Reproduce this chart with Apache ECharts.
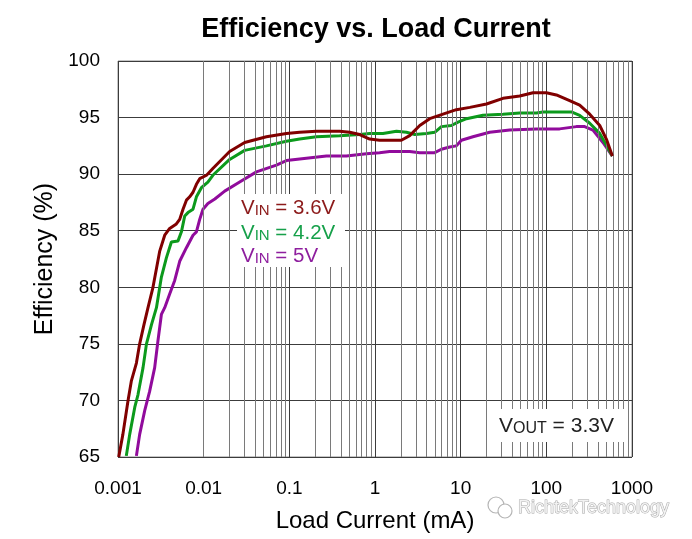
<!DOCTYPE html>
<html>
<head>
<meta charset="utf-8">
<script src="https://cdn.jsdelivr.net/npm/echarts@6/dist/echarts.min.js"></script>
<style>html,body{margin:0;padding:0;background:#fff}#c{width:692px;height:539px}</style>
</head>
<body>
<div id="c"></div>
<script>
// ---- data (Load current in mA, efficiency in %) ----
var xTickLabels = ['0.001', '0.01', '0.1', '1', '10', '100', '1000'];
var yTicks = [65, 70, 75, 80, 85, 90, 95, 100];
var minorMultipliers = [2, 3, 4, 5, 6, 7, 8, 9];

var vin36X = [0.00102, 0.00114, 0.00131, 0.00143, 0.00164, 0.00179, 0.00201, 0.00224, 0.00256, 0.00307, 0.00351, 0.00401, 0.00480, 0.00525, 0.00574, 0.00629, 0.00687, 0.00751, 0.00823, 0.00899, 0.0108, 0.0128, 0.0201, 0.0301, 0.054, 0.0924, 0.132, 0.207, 0.387, 0.507, 0.663, 0.867, 1.13, 1.36, 2.03, 2.54, 3.33, 4.35, 6.22, 8.91, 12.8, 20.0, 31.2, 48.9, 69.9, 100, 131, 187, 245, 321, 420, 502, 590];
var vin36Y = [65.0, 67.0, 70.0, 71.7, 73.3, 75.0, 76.7, 78.2, 80.0, 83.2, 84.6, 85.2, 85.6, 86.0, 86.9, 87.7, 88.0, 88.4, 89.1, 89.6, 89.9, 90.5, 92.0, 92.8, 93.3, 93.6, 93.7, 93.8, 93.8, 93.7, 93.5, 93.1, 93.0, 93.0, 93.0, 93.4, 94.3, 94.9, 95.3, 95.7, 95.9, 96.2, 96.7, 96.9, 97.2, 97.2, 97.0, 96.5, 96.1, 95.3, 94.3, 93.1, 91.6];

var vin42X = [0.00125, 0.00137, 0.00157, 0.00171, 0.00196, 0.00215, 0.00246, 0.00281, 0.00321, 0.00367, 0.00420, 0.00502, 0.00550, 0.00601, 0.00656, 0.00751, 0.00823, 0.00941, 0.0112, 0.0128, 0.0201, 0.0301, 0.054, 0.0924, 0.132, 0.207, 0.387, 0.663, 0.867, 1.24, 1.78, 2.33, 2.91, 3.98, 4.98, 5.96, 7.79, 9.31, 11.7, 18.2, 31.2, 48.9, 76.5, 91.4, 131, 196, 245, 321, 420, 590];
var vin42Y = [65.1, 67.0, 69.4, 70.5, 72.9, 75.0, 76.7, 78.2, 80.9, 82.6, 84.0, 84.1, 84.9, 86.3, 86.6, 86.9, 88.0, 88.8, 89.3, 89.9, 91.3, 92.1, 92.5, 92.9, 93.1, 93.3, 93.4, 93.5, 93.6, 93.6, 93.8, 93.7, 93.5, 93.6, 93.7, 94.2, 94.3, 94.6, 94.9, 95.2, 95.3, 95.4, 95.4, 95.5, 95.5, 95.5, 95.2, 94.5, 93.6, 91.6];

var vin5X = [0.00164, 0.00179, 0.00205, 0.00234, 0.00268, 0.00293, 0.00321, 0.00351, 0.00401, 0.00459, 0.00525, 0.00629, 0.00751, 0.00823, 0.00899, 0.00982, 0.0112, 0.0135, 0.0176, 0.0263, 0.0413, 0.0706, 0.0924, 0.158, 0.271, 0.463, 0.794, 1.13, 1.48, 2.54, 3.33, 4.98, 5.96, 7.45, 8.91, 10.2, 13.9, 21.8, 37.4, 76.5, 143, 224, 280, 350, 458, 590];
var vin5Y = [65.1, 67.0, 69.1, 70.8, 72.9, 75.3, 77.6, 78.2, 79.4, 80.6, 82.3, 83.5, 84.6, 84.9, 86.0, 86.9, 87.4, 87.8, 88.5, 89.3, 90.2, 90.8, 91.2, 91.4, 91.6, 91.6, 91.8, 91.9, 92.0, 92.0, 91.9, 91.9, 92.2, 92.4, 92.5, 93.0, 93.3, 93.7, 93.9, 94.0, 94.0, 94.2, 94.2, 93.9, 92.8, 91.6];

function pairs(xs, ys) { return xs.map(function (x, i) { return [x, ys[i]]; }); }

var minorLines = [];
xTickLabels.slice(0, -1).forEach(function (t) {
  var base = parseFloat(t);
  minorMultipliers.forEach(function (m) { minorLines.push({ xAxis: base * m }); });
});

var FONT = '"Liberation Sans", Arial, sans-serif';
var C36 = '#800000', C42 = '#0c9a1c', C5 = '#910b9c';

var chart = echarts.init(document.getElementById('c'), null, { renderer: 'canvas' });
chart.setOption({
  backgroundColor: '#fff',
  animation: false,
  grid: { left: 118, right: 60, top: 61, bottom: 82, show: true, borderColor: '#8c8c8c', borderWidth: 1, backgroundColor: 'transparent' },
  xAxis: {
    type: 'log', logBase: 10, min: 0.001, max: 1000,
    axisLine: { show: false }, axisTick: { show: false },
    splitLine: { show: true, lineStyle: { color: '#3c3c3c', width: 1 } },
    axisLabel: {
      margin: 22, fontSize: 19, color: '#000', fontFamily: FONT,
      formatter: function (v) { var k = Math.round(Math.log10(v)) + 3; return xTickLabels[k] || ''; }
    },
    name: 'Load Current (mA)', nameLocation: 'middle', nameGap: 52,
    nameTextStyle: { fontSize: 24, color: '#000', fontFamily: FONT }
  },
  yAxis: {
    type: 'value', min: yTicks[0], max: yTicks[yTicks.length - 1], interval: 5,
    axisLine: { show: false }, axisTick: { show: false },
    splitLine: { show: true, lineStyle: { color: '#3c3c3c', width: 1 } },
    axisLabel: { margin: 18, fontSize: 19, color: '#000', fontFamily: FONT },
    name: 'Efficiency (%)', nameLocation: 'middle', nameGap: 60, nameRotate: 90,
    nameTextStyle: { fontSize: 25, color: '#000', fontFamily: FONT }
  },
  series: [
    { type: 'line', data: [], silent: true, z: 1,
      markLine: { silent: true, symbol: ['none', 'none'], label: { show: false },
        lineStyle: { color: '#7a7a7a', width: 1, type: 'solid' }, emphasis: { disabled: true }, data: minorLines } },
    { name: 'VIN = 3.6V', type: 'line', data: pairs(vin36X, vin36Y), showSymbol: false, z: 5, lineStyle: { color: C36, width: 3 } },
    { name: 'VIN = 4.2V', type: 'line', data: pairs(vin42X, vin42Y), showSymbol: false, z: 4, lineStyle: { color: C42, width: 3 } },
    { name: 'VIN = 5V', type: 'line', data: pairs(vin5X, vin5Y), showSymbol: false, z: 3, lineStyle: { color: C5, width: 3 } }
  ],
  graphic: [
    { type: 'text', x: 376, y: 30, z: 100, style: { text: 'Efficiency vs. Load Current', font: 'bold 27px ' + FONT, fill: '#000', align: 'center', verticalAlign: 'middle' } },
    { type: 'rect', z: 90, shape: { x: 237, y: 194, width: 108, height: 73 }, style: { fill: '#fff' } },
    { type: 'text', x: 241, y: 208, z: 100, style: { text: '{v|V}{s|IN}{v| = 3.6V}', fill: '#8c1a1a', verticalAlign: 'middle',
      rich: { v: { fontSize: 20.5, fontFamily: FONT, fill: '#8c1a1a' }, s: { fontSize: 15, fontFamily: FONT, fill: '#8c1a1a', verticalAlign: 'bottom', padding: [4, 0, 0, 0] } } } },
    { type: 'text', x: 241, y: 233, z: 100, style: { text: '{v|V}{s|IN}{v| = 4.2V}', fill: '#16a04a', verticalAlign: 'middle',
      rich: { v: { fontSize: 20.5, fontFamily: FONT, fill: '#16a04a' }, s: { fontSize: 15, fontFamily: FONT, fill: '#16a04a', verticalAlign: 'bottom', padding: [4, 0, 0, 0] } } } },
    { type: 'text', x: 241, y: 256, z: 100, style: { text: '{v|V}{s|IN}{v| = 5V}', fill: '#8e1e9e', verticalAlign: 'middle',
      rich: { v: { fontSize: 20.5, fontFamily: FONT, fill: '#8e1e9e' }, s: { fontSize: 15, fontFamily: FONT, fill: '#8e1e9e', verticalAlign: 'bottom', padding: [4, 0, 0, 0] } } } },
    { type: 'rect', z: 90, shape: { x: 493, y: 409, width: 134, height: 33 }, style: { fill: '#fff' } },
    { type: 'text', x: 499, y: 426, z: 100, style: { text: '{v|V}{s|OUT}{v| = 3.3V}', fill: '#222', verticalAlign: 'middle',
      rich: { v: { fontSize: 21, fontFamily: FONT, fill: '#222' }, s: { fontSize: 16, fontFamily: FONT, fill: '#222', verticalAlign: 'bottom', padding: [4, 0, 0, 0] } } } },
    { type: 'circle', z: 100, shape: { cx: 496, cy: 505, r: 8 }, style: { fill: 'none', stroke: '#b5b5b5', lineWidth: 1.2 } },
    { type: 'circle', z: 100, shape: { cx: 505, cy: 511, r: 7 }, style: { fill: '#fff', stroke: '#b5b5b5', lineWidth: 1.2 } },
    { type: 'text', x: 518, y: 508, z: 100, style: { text: 'RichtekTechnology', font: '18px ' + FONT, fill: '#f2f2f2', stroke: '#a8a8a8', lineWidth: 1, verticalAlign: 'middle' } }
  ]
});
</script>
</body>
</html>
